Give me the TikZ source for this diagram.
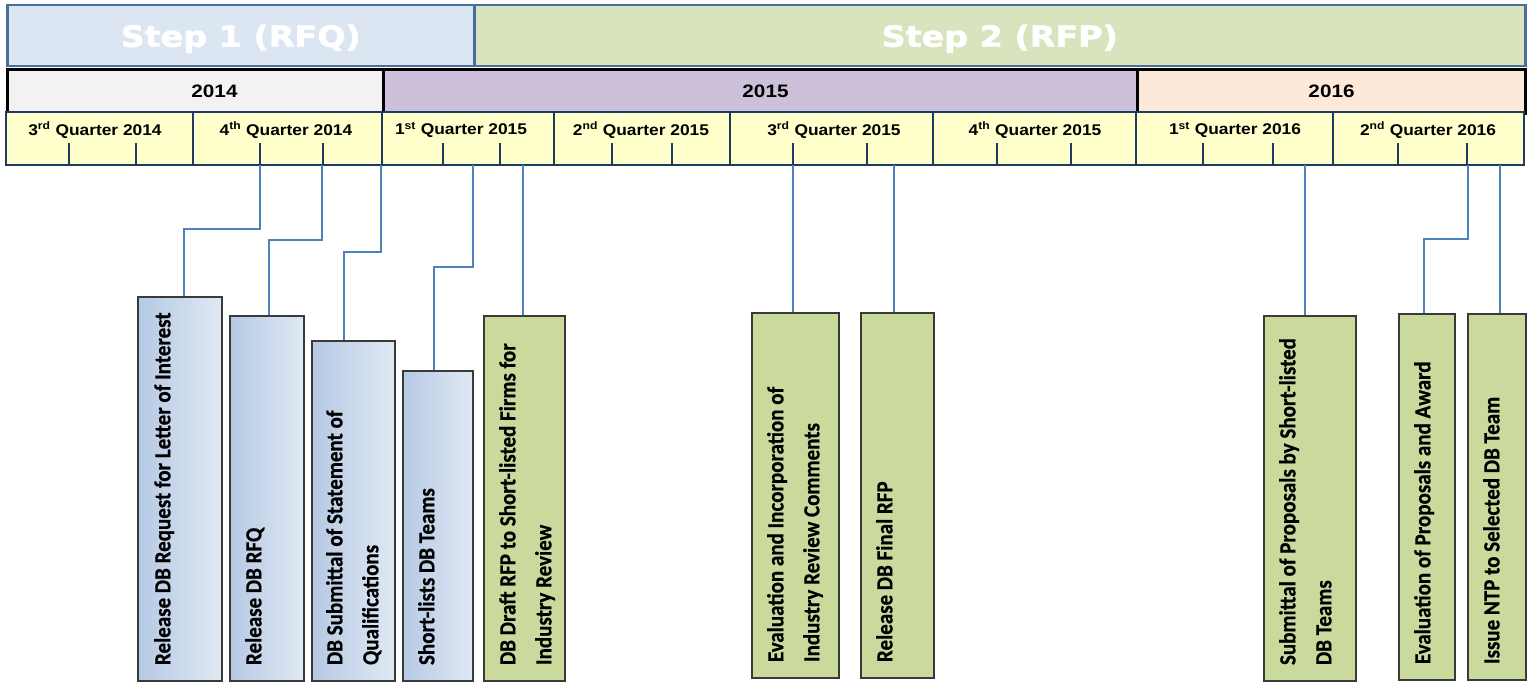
\documentclass[tikz,border=0pt]{standalone}
\usepackage{fontspec}
\usepackage{graphicx}
\setmainfont{Liberation Sans}
\newfontfamily\boxfont{Carlito}[BoldFeatures={FakeBold=0.6}]
\newfontfamily\stepfont{DejaVu Sans}[BoldFeatures={FakeBold=1.6}]
\definecolor{stepborder}{HTML}{4A6E9B}
\definecolor{stepone}{HTML}{DCE6F2}
\definecolor{steptwo}{HTML}{D7E4BD}
\definecolor{yrA}{HTML}{F2F2F2}
\definecolor{yrB}{HTML}{CCC0DA}
\definecolor{yrC}{HTML}{FDE9D9}
\definecolor{qfill}{HTML}{FFFFCC}
\definecolor{navy}{HTML}{1F3B64}
\definecolor{connblue}{HTML}{4F81BD}
\definecolor{blueL}{HTML}{B6C9E4}
\definecolor{blueR}{HTML}{E0E9F4}
\definecolor{grn}{HTML}{C9DA9C}
\definecolor{boxborder}{HTML}{3A3A3A}
\newcommand\rotlabel[1]{\scalebox{1}[1.1]{\begin{tabular}[t]{@{}l@{}}#1\end{tabular}}}
\newcommand\qlab[3]{\scalebox{1.12}[1]{#1\textsuperscript{#2} Quarter #3}}
\newcommand\steplab[1]{\raisebox{-3pt}[\height][\depth]{\scalebox{1.15}[1]{#1}}}
\begin{document}
\begin{tikzpicture}[x=1pt,y=-1pt,
  stepcell/.style={draw=stepborder, line width=2.5pt, anchor=north west, inner sep=0, minimum height=61, text=white, font=\stepfont\bfseries\fontsize{29}{32}\selectfont},
  yearcell/.style={draw=black, line width=3pt, anchor=north west, inner sep=0, minimum height=44, font=\bfseries\fontsize{18}{20}\selectfont},
  qlabel/.style={inner sep=0, font=\bfseries\fontsize{15.5}{17}\selectfont},
  bluebox/.style={draw=boxborder, line width=2.2pt, anchor=north west, inner sep=0, left color=blueL, right color=blueR},
  greenbox/.style={draw=boxborder, line width=2.2pt, anchor=north west, inner sep=0, fill=grn},
  boxtext/.style={rotate=90, anchor=north west, inner sep=0, font=\boxfont\bfseries\fontsize{21}{32.7}\selectfont},
  conn/.style={draw=connblue, line width=2.5pt},
  tickline/.style={draw=navy, line width=2.8pt},
  qdiv/.style={draw=navy, line width=2.2pt}]
\useasboundingbox (0,0) rectangle (1528,685);
% step row
\node[stepcell, fill=stepone, minimum width=467] (s1) at (6,4) {\steplab{Step 1 (RFQ)}};
\node[stepcell, fill=steptwo, minimum width=1051] (s2) at (473,4) {\steplab{Step 2 (RFP)}};
% year row
\node[yearcell, fill=yrA, minimum width=376] (y1) at (6,68) {\hspace*{38pt}\scalebox{1.15}[1]{2014}};
\node[yearcell, fill=yrB, minimum width=754] (y2) at (382,68) {\hspace*{10pt}\scalebox{1.15}[1]{2015}};
\node[yearcell, fill=yrC, minimum width=388] (y3) at (1136,68) {\scalebox{1.15}[1]{2016}};
% quarter row
\path[fill=qfill, draw=navy, line width=2.2pt] (6,112) rectangle (1524,165);
\foreach \x in {193,382,554,730,933,1136,1333} \draw[qdiv] (\x,112) -- (\x,165);
\foreach \x in {69,136,260,323,443,500,612,672,793,867,997,1071,1203,1273,1398,1467} \draw[tickline] (\x,143) -- (\x,165);
\node[qlabel] (q1) at (95,130) {\qlab{3}{rd}{2014}};
\node[qlabel] (q2) at (286,130) {\qlab{4}{th}{2014}};
\node[qlabel] (q3) at (461,130) {\qlab{1}{st}{2015}};
\node[qlabel] (q4) at (641,130) {\qlab{2}{nd}{2015}};
\node[qlabel] (q5) at (834,130) {\qlab{3}{rd}{2015}};
\node[qlabel] (q6) at (1035,130) {\qlab{4}{th}{2015}};
\node[qlabel] (q7) at (1235,130) {\qlab{1}{st}{2016}};
\node[qlabel] (q8) at (1428,130) {\qlab{2}{nd}{2016}};
% boxes
\node[bluebox, minimum width=84, minimum height=384] (b1) at (137,296) {};
\node[bluebox, minimum width=74, minimum height=365] (b2) at (229,315) {};
\node[bluebox, minimum width=83, minimum height=340] (b3) at (311,340) {};
\node[bluebox, minimum width=70, minimum height=310] (b4) at (402,370) {};
\node[greenbox, minimum width=81, minimum height=365] (b5) at (483,315) {};
\node[greenbox, minimum width=87, minimum height=365] (b6) at (751,312) {};
\node[greenbox, minimum width=73, minimum height=365] (b7) at (860,312) {};
\node[greenbox, minimum width=92, minimum height=365] (b8) at (1263,315) {};
\node[greenbox, minimum width=56, minimum height=366] (b9) at (1398,313) {};
\node[greenbox, minimum width=58, minimum height=366] (b10) at (1467,313) {};
% box texts
\node[boxtext] (t1) at ([shift={(8,-17)}]b1.south west) {\rotlabel{Release DB Request for Letter of Interest}};
\node[boxtext] (t2) at ([shift={(7,-17)}]b2.south west) {\rotlabel{Release DB RFQ}};
\node[boxtext] (t3) at ([shift={(6,-17)}]b3.south west) {\rotlabel{DB Submittal of Statement of\\Qualifications}};
\node[boxtext] (t4) at ([shift={(7,-17)}]b4.south west) {\rotlabel{Short-lists DB Teams}};
\node[boxtext] (t5) at ([shift={(7,-17)}]b5.south west) {\rotlabel{DB Draft RFP to Short-listed Firms for\\Industry Review}};
\node[boxtext] (t6) at ([shift={(7,-17)}]b6.south west) {\rotlabel{Evaluation and Incorporation of\\Industry Review Comments}};
\node[boxtext] (t7) at ([shift={(7,-17)}]b7.south west) {\rotlabel{Release DB Final RFP}};
\node[boxtext] (t8) at ([shift={(7,-17)}]b8.south west) {\rotlabel{Submittal of Proposals by Short-listed\\DB Teams}};
\node[boxtext] (t9) at ([shift={(7,-17)}]b9.south west) {\rotlabel{Evaluation of Proposals and Award}};
\node[boxtext] (t10) at ([shift={(7,-17)}]b10.south west) {\rotlabel{Issue NTP to Selected DB Team}};
% connectors
\coordinate (c1) at (260,165);
\coordinate (c2) at (322,165);
\coordinate (c3) at (381,165);
\coordinate (c4) at (473,165);
\coordinate (c5) at (523,165);
\coordinate (c6) at (793,165);
\coordinate (c7) at (894,165);
\coordinate (c8) at (1305,165);
\coordinate (c9) at (1468,165);
\coordinate (c10) at (1500,165);
\draw[conn] (c1) -- ++(0,64) -| ([xshift=4]b1.north);
\draw[conn] (c2) -- ++(0,75) -| ([xshift=2]b2.north);
\draw[conn] (c3) -- ++(0,87) -| ([xshift=-9.5]b3.north);
\draw[conn] (c4) -- ++(0,102) -| ([xshift=-4]b4.north);
\draw[conn] (c5) -- (c5 |- b5.north);
\draw[conn] (c6) -- (c6 |- b6.north);
\draw[conn] (c7) -- (c7 |- b7.north);
\draw[conn] (c8) -- (c8 |- b8.north);
\draw[conn] (c9) -- ++(0,74) -| ([xshift=-3]b9.north);
\draw[conn] (c10) -- (c10 |- b10.north);
\end{tikzpicture}
\end{document}
